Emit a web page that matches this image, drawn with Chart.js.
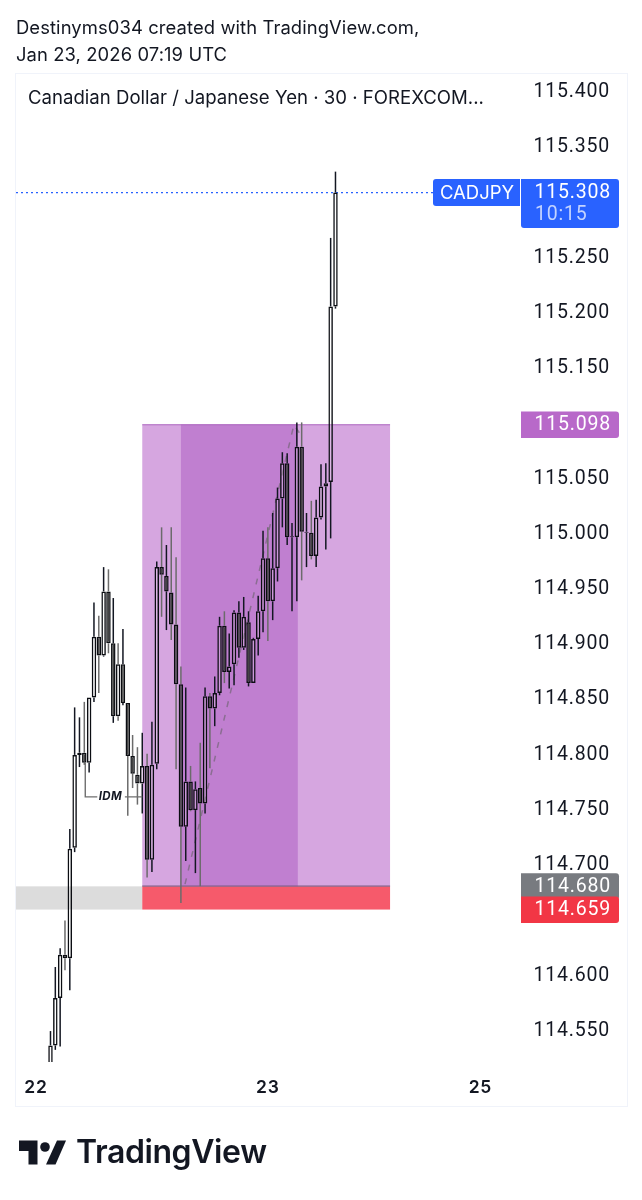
<!DOCTYPE html>
<html><head><meta charset="utf-8">
<style>
html,body{margin:0;padding:0;background:#fff;width:642px;height:1200px;overflow:hidden}
#wrap{position:relative;width:642px;height:1200px}
canvas{position:absolute;left:0;top:0}
.t{position:absolute;font-family:Inter,sans-serif;color:#131722;white-space:nowrap}
#frame{position:absolute;left:15px;top:73px;width:611px;height:1032px;border:1px solid #f0f3fa}
</style></head><body>
<div id="wrap">
<div id="frame"></div>
<canvas id="c" width="642" height="1200"></canvas>
<div class="t" style="left:16px;top:14px;font-size:18.4px;line-height:27px;letter-spacing:.1px">Destinyms034 created with TradingView.com,<br>Jan 23, 2026 07:19 UTC</div>
<div class="t" style="left:28px;top:85px;font-size:18.6px;line-height:24px">Canadian Dollar / Japanese Yen · 30 · FOREXCOM...</div>
<svg style="position:absolute;left:19px;top:1140px" width="47" height="25" viewBox="0 0 47 24"><path fill="#131722" d="M0 0H18.5V24H9.5V10.5H0Z"/><circle cx="26" cy="6.5" r="4.8" fill="#131722"/><path fill="#131722" d="M38 0H47L36.5 24H27Z"/></svg>
<div class="t" style="left:76px;top:1132px;font-size:32px;line-height:40px;font-weight:600;letter-spacing:-.4px">TradingView</div>
</div>
<script src="https://cdn.jsdelivr.net/npm/chart.js@4/dist/chart.umd.min.js"></script>
<script>
// 30-minute candles; bar number counted from the "22" session tick
const firstBar = 3;
const opens  = [114.515,114.536,114.579,114.618,114.615,114.715,114.799,114.801,114.792,114.851,114.906,114.889,114.947,114.900,114.834,114.881,114.846,114.798,114.781,114.773,114.789,114.704,114.791,114.969,114.961,114.946,114.917,114.863,114.734,114.775,114.749,114.769,114.755,114.852,114.841,114.855,114.916,114.874,114.881,114.928,114.896,114.919,114.864,114.904,114.929,114.977,114.938,114.968,115.031,115.063,114.996,114.996,115.078,115.001,115.000,114.979,115.014,115.042,115.046,115.205];
const closes = [114.536,114.579,114.618,114.615,114.714,114.799,114.801,114.792,114.851,114.906,114.889,114.947,114.900,114.834,114.881,114.846,114.798,114.782,114.773,114.789,114.704,114.790,114.969,114.962,114.947,114.917,114.863,114.734,114.775,114.749,114.768,114.755,114.852,114.841,114.855,114.916,114.874,114.879,114.928,114.896,114.924,114.864,114.904,114.929,114.977,114.938,114.968,115.031,115.063,114.996,114.997,115.078,115.001,115.000,114.979,115.014,115.042,115.045,115.205,115.308];
const highs  = [114.549,114.607,114.624,114.649,114.732,114.842,114.833,114.847,114.851,114.937,114.925,114.969,114.967,114.941,114.900,114.913,114.846,114.817,114.806,114.819,114.800,114.829,114.974,115.005,114.989,115.005,114.978,114.879,114.860,114.789,114.775,114.810,114.860,114.855,114.870,114.924,114.929,114.909,114.930,114.938,114.942,114.929,114.905,114.943,115.002,115.005,115.018,115.041,115.073,115.072,115.009,115.100,115.100,115.018,115.029,115.030,115.062,115.063,115.267,115.327];
const lows   = [114.515,114.532,114.535,114.604,114.586,114.711,114.788,114.790,114.783,114.847,114.855,114.888,114.891,114.828,114.830,114.844,114.744,114.769,114.754,114.746,114.688,114.693,114.786,114.924,114.912,114.903,114.786,114.665,114.703,114.748,114.692,114.680,114.746,114.787,114.825,114.853,114.864,114.859,114.862,114.887,114.894,114.861,114.864,114.889,114.910,114.902,114.921,114.956,115.005,114.989,114.929,114.938,114.957,114.969,114.976,114.969,115.012,114.985,114.995,115.203];
const greyWickBars = [6,10,13,15,17,19,20,21,23,26,28,29,30,32,34,36,39,48,55,57];

const shownPriceTicks = [115.400,115.350,115.250,115.200,115.150,115.050,115.000,114.950,114.900,114.850,114.800,114.750,114.700,114.600,114.550];
const timeTickBars = [0,48,92];
const timeTickLabels = ['22','23','25'];

const lastPrice = 115.308, targetPrice = 115.098, entryPrice = 114.680, stopPrice = 114.659;
const symbolLabel = 'CADJPY', countdownLabel = '10:15';
const zoneStartBar = 22, zoneEndBar = 73.3, filledStartBar = 30, filledEndBar = 54.2;
const pathBars = [30.85, 53.4, 54.6];
const pathPrices = [114.682, 115.098, 115.090];
const idmBarStart = 10.2, idmTextBar = 15.4, idmBarEnd = 22, idmPrice = 114.761, idmTopPrice = 114.792;

const INK = '#131722';
const NUM = '19.5px Roboto, sans-serif';
const bars = opens.map((_, i) => firstBar + i);
const yMax = 115.41629, yMin = 114.5210;
const xMin = -4.14, xMax = 100.2;

const zonesPlugin = {
  id: 'zones',
  beforeDraw(ch) {
    ch.ctx.letterSpacing = '.8px';
    const s = ch.scales.y, draw = Object.getPrototypeOf(s).drawLabels;
    s.drawLabels = function (a) { ch.ctx.save(); ch.ctx.translate(0, 1); draw.call(this, a); ch.ctx.restore(); };
  },
  beforeDatasetsDraw(ch) {
    const {ctx, chartArea: a, scales: {x, y}} = ch;
    const X = v => x.getPixelForValue(v), Y = v => y.getPixelForValue(v);
    ctx.save();
    ctx.fillStyle = '#dcdcdc';
    ctx.fillRect(a.left, Y(entryPrice), X(zoneStartBar) - a.left, Y(stopPrice) - Y(entryPrice));
    ctx.fillStyle = '#d6a6e0';
    ctx.fillRect(X(zoneStartBar), Y(targetPrice), X(zoneEndBar) - X(zoneStartBar), Y(entryPrice) - Y(targetPrice));
    ctx.fillStyle = '#c07fd0';
    ctx.fillRect(X(filledStartBar), Y(targetPrice), X(filledEndBar) - X(filledStartBar), Y(entryPrice) - Y(targetPrice));
    ctx.fillStyle = '#f65a6b';
    ctx.fillRect(X(zoneStartBar), Y(entryPrice), X(zoneEndBar) - X(zoneStartBar), Y(stopPrice) - Y(entryPrice));
    ctx.fillStyle = 'rgba(120,90,130,.75)';
    ctx.fillRect(X(zoneStartBar), Y(entryPrice) - 1, X(zoneEndBar) - X(zoneStartBar), 1.5);
    ctx.fillStyle = 'rgba(170,100,190,.8)';
    ctx.fillRect(X(zoneStartBar), Y(targetPrice) - .5, X(zoneEndBar) - X(zoneStartBar), 1.2);
    ctx.restore();
  },
  afterDatasetsDraw(ch) {
    const {ctx, scales: {x, y}} = ch;
    const X = v => x.getPixelForValue(v), Y = v => y.getPixelForValue(v);
    ctx.save();
    ctx.letterSpacing = '.3px';
    ctx.strokeStyle = '#6f6f6f'; ctx.lineWidth = 1.4;
    ctx.beginPath();
    ctx.moveTo(X(idmBarStart), Y(idmTopPrice));
    ctx.lineTo(X(idmBarStart), Y(idmPrice));
    ctx.lineTo(X(idmBarStart) + 12, Y(idmPrice));
    ctx.moveTo(X(idmTextBar) + 14.5, Y(idmPrice));
    ctx.lineTo(X(idmBarEnd), Y(idmPrice));
    ctx.stroke();
    ctx.fillStyle = INK;
    ctx.font = 'italic 700 11.5px Inter, sans-serif';
    ctx.textAlign = 'center'; ctx.textBaseline = 'middle';
    ctx.fillText('IDM', X(idmTextBar), Y(idmPrice));
    ctx.restore();
  },
  afterDraw(ch) {
    const {ctx, scales: {y}} = ch;
    const Y = v => y.getPixelForValue(v);
    const tag = (price, color) => {
      const c = Y(price);
      ctx.fillStyle = color;
      ctx.beginPath(); ctx.roundRect(521, c - 13, 98, 26.5, [0, 3, 3, 0]); ctx.fill();
      ctx.fillStyle = '#fff';
      ctx.font = NUM; ctx.textAlign = 'right'; ctx.textBaseline = 'middle';
      ctx.fillText(price.toFixed(3), 611, c + 1);
    };
    ctx.save();
    const c = Y(lastPrice);
    ctx.fillStyle = '#2962ff';
    ctx.beginPath(); ctx.roundRect(433, c - 13.5, 87, 27, [3, 0, 0, 3]); ctx.fill();
    ctx.beginPath(); ctx.roundRect(521, c - 13.5, 98, 49, [0, 3, 3, 3]); ctx.fill();
    ctx.fillStyle = '#fff';
    ctx.font = '18.5px Inter, sans-serif'; ctx.textBaseline = 'middle';
    ctx.letterSpacing = '0px';
    ctx.textAlign = 'center'; ctx.fillText(symbolLabel, 477, c + 1);
    ctx.font = NUM;
    ctx.letterSpacing = '.8px';
    ctx.textAlign = 'right'; ctx.fillText(lastPrice.toFixed(3), 611, c + 1);
    ctx.fillStyle = '#c3d3ff';
    ctx.textAlign = 'left'; ctx.fillText(countdownLabel, 535, c + 22.5);
    tag(targetPrice, '#b869c9');
    tag(entryPrice, '#787b80');
    tag(stopPrice, '#f23645');
    ctx.restore();
  }
};

new Chart(document.getElementById('c'), {
  data: {
    datasets: [
      { type: 'bar', order: 0, grouped: false, barThickness: 4.5,
        data: bars.map((b, i) => ({x: b, y: [opens[i], closes[i]]})),
        backgroundColor: bars.map((b, i) => closes[i] >= opens[i] ? 'rgba(255,255,255,.2)' : '#444'),
        borderColor: '#0b0d12', borderWidth: 1.5, borderSkipped: false, inflateAmount: 0 },
      { type: 'bar', order: 1, grouped: false, barThickness: 1.5,
        data: bars.map((b, i) => ({x: b, y: [Math.max(opens[i], closes[i]), highs[i]]})),
        backgroundColor: bars.map(b => greyWickBars.includes(b) ? '#6b6b6b' : INK), borderWidth: 0, inflateAmount: 0 },
      { type: 'bar', order: 1, grouped: false, barThickness: 1.5,
        data: bars.map((b, i) => ({x: b, y: [lows[i], Math.min(opens[i], closes[i])]})),
        backgroundColor: bars.map(b => greyWickBars.includes(b) ? '#6b6b6b' : INK), borderWidth: 0, inflateAmount: 0 },
      { type: 'line', order: 2, data: pathBars.map((b, i) => ({x: b, y: pathPrices[i]})),
        borderColor: 'rgba(95,95,95,.55)', borderWidth: 1.5, borderDash: [6, 8], pointRadius: 0, tension: 0 },
      { type: 'line', order: 3, data: [{x: xMin, y: lastPrice}, {x: xMax, y: lastPrice}],
        borderColor: '#2962ff', borderWidth: 1.2, borderDash: [2, 3], pointRadius: 0 }
    ]
  },
  options: {
    responsive: false, animation: false, events: [],
    layout: {padding: {left: 16, top: 73, right: 32, bottom: 95}},
    plugins: {legend: {display: false}, tooltip: {enabled: false}, title: {display: false}},
    scales: {
      x: { type: 'linear', offset: false, min: xMin, max: xMax,
        grid: {display: false, offset: false}, border: {display: false},
        afterBuildTicks: s => { s.ticks = timeTickBars.map(v => ({value: v})); },
        afterFit: s => { s.height = 43; },
        ticks: { autoSkip: false, maxRotation: 0, padding: 7, color: INK,
          font: {family: 'Inter, sans-serif', size: 17.5, weight: '600'},
          callback: v => timeTickLabels[timeTickBars.indexOf(v)] } },
      y: { type: 'linear', position: 'right', min: yMin, max: yMax,
        grid: {display: false}, border: {display: false},
        afterBuildTicks: s => { s.ticks = shownPriceTicks.map(v => ({value: v})); },
        afterFit: s => { s.width = 90; },
        ticks: { autoSkip: false, crossAlign: 'far', padding: 16, color: INK, drawTicks: false,
          font: {family: 'Roboto, sans-serif', size: 19.5},
          callback: v => v.toFixed(3) } }
    }
  },
  plugins: [zonesPlugin]
});
</script>
</body></html>
